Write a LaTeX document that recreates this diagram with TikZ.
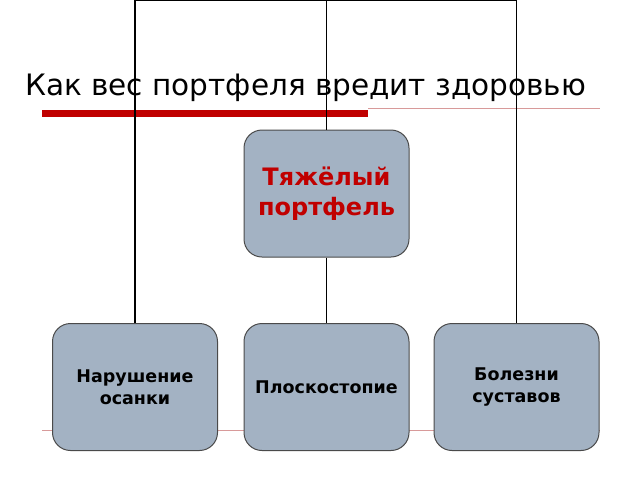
\documentclass[tikz,border=0pt]{standalone}
\usepackage{fontspec}
\setmainfont{DejaVu Sans}
\definecolor{boxfill}{HTML}{A3B2C3}
\definecolor{boxdraw}{HTML}{4A4A4A}
\definecolor{darkred}{HTML}{C00000}
\definecolor{thinred}{HTML}{D89A9A}
\begin{document}
\begin{tikzpicture}[x=1pt,y=-1pt]
\tikzstyle{rounded} = [rectangle, rounded corners=18pt, minimum width=165pt, minimum height=127pt, text width=158pt, align=center, fill=boxfill, draw=boxdraw, line width=1pt, font=\bfseries\fontsize{17.5}{22}\selectfont]
\tikzstyle{title}=[anchor=west, inner sep=0pt, font=\fontsize{29.5}{34}\selectfont]
\tikzstyle{line}=[line width=1.8pt, black]

\useasboundingbox (0,0) rectangle (640,480);

%background lines
\fill[darkred] (42,110) rectangle (368,117);
\draw[thinred] (368,108) -- (600,108);
\draw[thinred] (42,430) -- (600,430);

%nodes
\node (title) [title] at (25,88) {Как вес портфеля вредит здоровью};
\coordinate (top) at (326.5,0);
\node (heavy) [rounded, text=darkred, font=\bfseries\fontsize{24}{30}\selectfont] at (326.5,193.5) {Тяжёлый\\ портфель};
\node (posture) [rounded] at (135,387) {Нарушение\\ осанки};
\node (flat) [rounded] at (326.5,387) {Плоскостопие};
\node (joints) [rounded] at (516.5,387) {Болезни\\ суставов};

%lines
\draw [line] (posture.north) |- (top) -| (joints.north);
\draw [line] (heavy.north) -- (top);
\draw [line] (heavy.south) -- (flat.north);

\end{tikzpicture}
\end{document}
